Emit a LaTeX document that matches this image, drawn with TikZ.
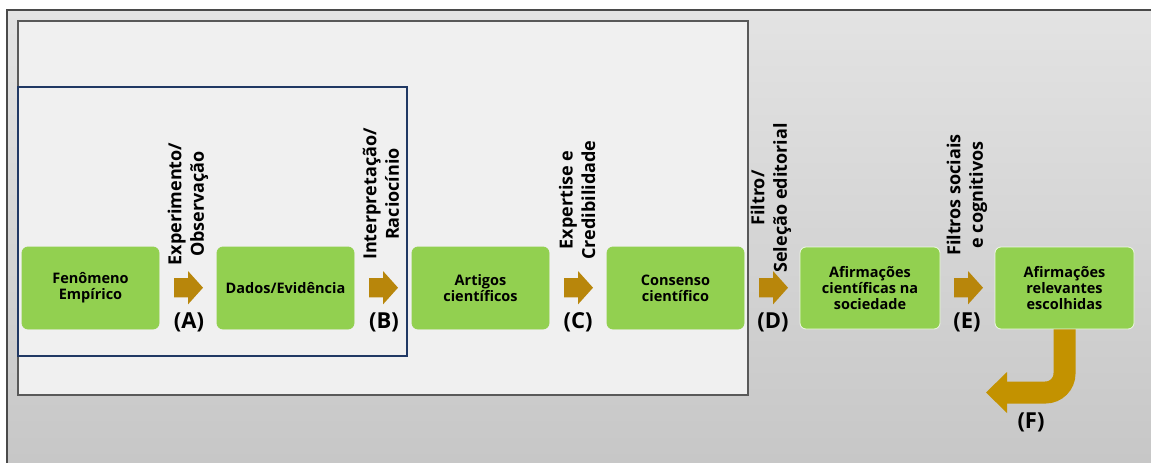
\documentclass[tikz,border=0pt]{standalone}
\usepackage{fontspec}
\setmainfont{Open Sans}
\definecolor{boxgreen}{HTML}{92D050}
\definecolor{arrgold}{HTML}{B8860B}
\definecolor{fgold}{HTML}{C39200}
\definecolor{navy}{HTML}{203864}
\definecolor{framegray}{HTML}{4A4A4A}
\definecolor{innerfill}{HTML}{F0F0F0}
\tikzset{
  stage/.style={rectangle, rounded corners=6pt, fill=boxgreen, draw=boxgreen, line width=0.8pt,
    minimum width=137pt, minimum height=82pt, align=center, font=\bfseries\fontsize{14.5}{16}\selectfont},
  stagew/.style={stage, draw=white!85!boxgreen},
  steplabel/.style={rotate=90, align=center, font=\bfseries\fontsize{18}{22.5}\selectfont, inner sep=0pt},
  letter/.style={font=\bfseries\fontsize{22}{22}\selectfont, inner sep=0pt},
  blockarrow/.pic={\fill[arrgold] (0,-9.7) -- (14,-9.7) -- (14,-16.7) -- (29,0) -- (14,16.7) -- (14,9.7) -- (0,9.7) -- cycle;}
}
\begin{document}
\begin{tikzpicture}[x=1pt,y=-1pt]
\useasboundingbox (0,0) rectangle (1151,463);
\fill[white] (0,0) rectangle (1151,463);
\shade[top color=black!11, bottom color=black!22] (7,10) rectangle (1151,463);
\draw[framegray, line width=2pt] (7,463) -- (7,10) -- (1151,10);
\draw[fill=innerfill, draw=black!65, line width=1.5pt] (18,21) rectangle (748,395);
\draw[navy, line width=1.3pt] (18,87) rectangle (407,356);

\node[stage] (b1) at (90.5,288) {Fenômeno\\Empírico};
\node[stage] (b2) at (285.5,288) {Dados/Evidência};
\node[stage] (b3) at (480.5,288) {Artigos\\científicos};
\node[stage] (b4) at (675.5,288) {Consenso\\científico};
\node[stagew, minimum width=140pt] (b5) at (870,288) {Afirmações\\científicas na\\sociedade};
\node[stagew, minimum width=139pt] (b6) at (1064.5,288) {Afirmações\\relevantes\\escolhidas};

\pic at (174,287.7) {blockarrow};
\pic at (369,287.7) {blockarrow};
\pic at (564,287.7) {blockarrow};
\pic at (759,287.7) {blockarrow};
\pic at (954,287.7) {blockarrow};

\node[steplabel] (la) at (188,204) {Experimento/\\Observação};
\node[steplabel] (lb) at (381,194) {Interpretação/\\Raciocínio};
\node[steplabel] (lc) at (577,200) {Expertise e\\Credibilidade};
\node[steplabel] (ld) at (771,198) {Filtro/\\Seleção editorial};
\node[steplabel] (le) at (967,195) {Filtros sociais\\e cognitivos};

\node[letter] (A) at (189,322) {(A)};
\node[letter] (B) at (384,322) {(B)};
\node[letter] (C) at (578,322) {(C)};
\node[letter] (D) at (773,322) {(D)};
\node[letter] (E) at (967,322) {(E)};
\node[letter] (F) at (1031,422) {(F)};

\coordinate (fturn) at (1064.5,392.5);
\coordinate (fend) at (1006,392.5);
\draw[fgold, line width=22pt, rounded corners=19pt] (b6.south) -- (fturn) -- (fend);
\fill[fgold] (1007,372) -- (986,392.5) -- (1007,413) -- cycle;
\end{tikzpicture}
\end{document}
